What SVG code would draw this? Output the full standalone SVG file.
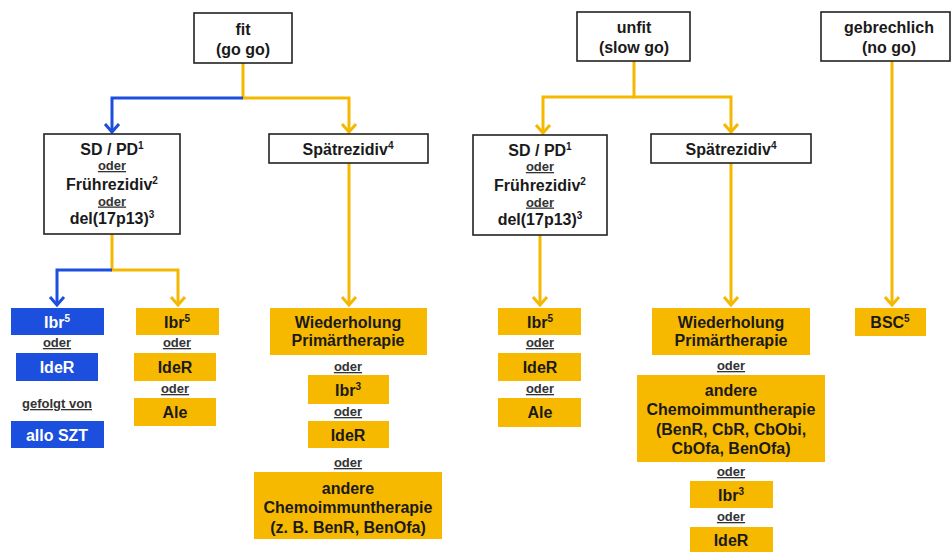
<svg xmlns="http://www.w3.org/2000/svg" width="952" height="552" viewBox="0 0 952 552">
<defs>
<style>
text{font-family:"Liberation Sans",Arial,Helvetica,sans-serif;font-weight:bold;font-size:16px;text-anchor:middle;fill:#1a1a1a}
.wb{fill:#fff;stroke:#222;stroke-width:1.6}
.y{fill:#F7B900}
.b{fill:#1C4FDE}
text.w{fill:#fff}
text.o{font-size:13px;text-decoration:underline;fill:#333}
.sup{font-size:10px}
.cy{fill:none;stroke:#F5B800;stroke-width:3}
.cb{fill:none;stroke:#1C4FDE;stroke-width:3}
</style>
<marker id="ay" viewBox="-10 -9 12 18" markerWidth="12" markerHeight="18" refX="0" refY="0" orient="auto" markerUnits="userSpaceOnUse">
<path d="M-8,-7 L0,0 L-8,7" fill="none" stroke="#F5B800" stroke-width="3"/>
</marker>
<marker id="ab" viewBox="-10 -9 12 18" markerWidth="12" markerHeight="18" refX="0" refY="0" orient="auto" markerUnits="userSpaceOnUse">
<path d="M-8,-7 L0,0 L-8,7" fill="none" stroke="#1C4FDE" stroke-width="3"/>
</marker>
</defs>
<rect width="952" height="552" fill="#fff"/>

<g id="connectors">
<path class="cy" d="M243,63 V98 H349 V132" marker-end="url(#ay)"/>
<path class="cb" d="M243,98 H112 V132" marker-end="url(#ab)"/>
<path class="cy" d="M112,234 V270 H178 V305" marker-end="url(#ay)"/>
<path class="cb" d="M112,270 H57 V305" marker-end="url(#ab)"/>
<path class="cy" d="M349,163 V305" marker-end="url(#ay)"/>
<path class="cy" d="M634,61 V97 H731 V132" marker-end="url(#ay)"/>
<path class="cy" d="M634,97 H543 V133" marker-end="url(#ay)"/>
<path class="cy" d="M540,235 V305" marker-end="url(#ay)"/>
<path class="cy" d="M731,163 V305" marker-end="url(#ay)"/>
<path class="cy" d="M892,61 V305" marker-end="url(#ay)"/>
</g>

<g id="fit"><rect class="wb" x="194" y="13" width="98" height="50"/><text x="243" y="35">fit</text><text x="243" y="55">(go go)</text></g>
<g id="unfit"><rect class="wb" x="577" y="12" width="113" height="49"/><text x="634" y="33">unfit</text><text x="634" y="53">(slow go)</text></g>
<g id="gebrechlich"><rect class="wb" x="821" y="12" width="129" height="49"/><text x="889" y="33">gebrechlich</text><text x="889" y="53">(no go)</text></g>

<g id="sdpd1"><rect class="wb" x="44" y="134" width="136" height="100"/>
<text x="112" y="155">SD / PD<tspan class="sup" dy="-6">1</tspan></text>
<text class="o" x="112" y="170">oder</text>
<text x="112" y="190">Frührezidiv<tspan class="sup" dy="-6">2</tspan></text>
<text class="o" x="112" y="205.5">oder</text>
<text x="112" y="224">del(17p13)<tspan class="sup" dy="-6">3</tspan></text></g>
<g id="spaet1"><rect class="wb" x="269" y="134" width="159" height="29"/><text x="348" y="155">Spätrezidiv<tspan class="sup" dy="-6">4</tspan></text></g>

<g id="sdpd2"><rect class="wb" x="473" y="135" width="134" height="100"/>
<text x="540" y="156">SD / PD<tspan class="sup" dy="-6">1</tspan></text>
<text class="o" x="540" y="171">oder</text>
<text x="540" y="191">Frührezidiv<tspan class="sup" dy="-6">2</tspan></text>
<text class="o" x="540" y="206.5">oder</text>
<text x="540" y="225">del(17p13)<tspan class="sup" dy="-6">3</tspan></text></g>
<g id="spaet2"><rect class="wb" x="651" y="134" width="160" height="29"/><text x="731" y="155">Spätrezidiv<tspan class="sup" dy="-6">4</tspan></text></g>

<g id="blue-col">
<rect class="b" x="11" y="308" width="93" height="27"/><text class="w" x="57" y="328">Ibr<tspan class="sup" dy="-6">5</tspan></text>
<text class="o" x="57" y="347">oder</text>
<rect class="b" x="16" y="353" width="82" height="28"/><text class="w" x="57" y="373">IdeR</text>
<text class="o" x="57" y="408">gefolgt von</text>
<rect class="b" x="11" y="421" width="93" height="27"/><text class="w" x="57" y="441">allo SZT</text>
</g>

<g id="yellow-col1">
<rect class="y" x="136" y="308" width="83" height="27"/><text x="177" y="328">Ibr<tspan class="sup" dy="-6">5</tspan></text>
<text class="o" x="177" y="347">oder</text>
<rect class="y" x="134" y="353" width="82" height="28"/><text x="175" y="373">IdeR</text>
<text class="o" x="175" y="393">oder</text>
<rect class="y" x="134" y="398" width="82" height="28"/><text x="175" y="418">Ale</text>
</g>

<g id="spaet1-therapy">
<rect class="y" x="270" y="308" width="157" height="47"/><text x="348" y="328">Wiederholung</text><text x="348" y="346">Primärtherapie</text>
<text class="o" x="348" y="371">oder</text>
<rect class="y" x="308" y="375" width="81" height="29"/><text x="348" y="396">Ibr<tspan class="sup" dy="-6">3</tspan></text>
<text class="o" x="348" y="416">oder</text>
<rect class="y" x="308" y="421" width="81" height="27"/><text x="348" y="441">IdeR</text>
<text class="o" x="348" y="467">oder</text>
<rect class="y" x="254" y="472" width="188" height="67"/>
<text x="348" y="494">andere</text><text x="348" y="513">Chemoimmuntherapie</text><text x="348" y="533">(z. B. BenR, BenOfa)</text>
</g>

<g id="unfit-col">
<rect class="y" x="498" y="308" width="83" height="27"/><text x="540" y="328">Ibr<tspan class="sup" dy="-6">5</tspan></text>
<text class="o" x="540" y="347">oder</text>
<rect class="y" x="498" y="353" width="83" height="28"/><text x="540" y="373">IdeR</text>
<text class="o" x="540" y="393">oder</text>
<rect class="y" x="498" y="398" width="83" height="29"/><text x="540" y="418">Ale</text>
</g>

<g id="spaet2-therapy">
<rect class="y" x="652" y="308" width="158" height="47"/><text x="731" y="328">Wiederholung</text><text x="731" y="346">Primärtherapie</text>
<text class="o" x="731" y="370">oder</text>
<rect class="y" x="637" y="375" width="188" height="87"/>
<text x="731" y="396">andere</text><text x="731" y="415">Chemoimmuntherapie</text><text x="731" y="435">(BenR, CbR, CbObi,</text><text x="731" y="454">CbOfa, BenOfa)</text>
<text class="o" x="731" y="476">oder</text>
<rect class="y" x="690" y="481" width="83" height="27"/><text x="731" y="501">Ibr<tspan class="sup" dy="-6">3</tspan></text>
<text class="o" x="731" y="521">oder</text>
<rect class="y" x="690" y="527" width="83" height="25"/><text x="731" y="546">IdeR</text>
</g>

<g id="bsc"><rect class="y" x="855" y="308" width="71" height="28"/><text x="890" y="328">BSC<tspan class="sup" dy="-6">5</tspan></text></g>
</svg>
